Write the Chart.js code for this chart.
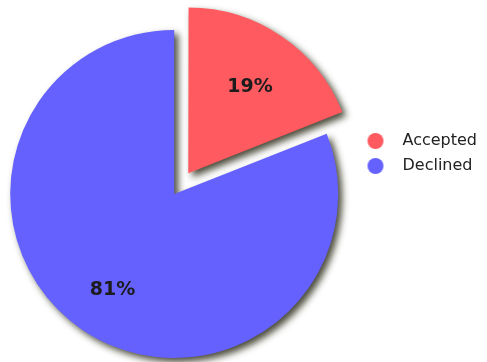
<!DOCTYPE html>
<html>
<head>
<meta charset="utf-8">
<script src="https://cdn.jsdelivr.net/npm/chart.js@4/dist/chart.umd.min.js"></script>
<style>
  body { margin: 0; background: #fff; }
  canvas { display: block; }
</style>
</head>
<body>
<canvas id="myChart" width="487" height="362"></canvas>
<script>
let labels = ['Accepted', 'Declined'];
let shares = [19, 81];
let sliceColors = ['#FF5A5F', '#6561FF'];
let sliceOffsets = [100, 0];   // arcs get translated by offset/4

// legend dot drawn at the left of a wider box so the text sits further right
function dotImage(color) {
    let c = document.createElement('canvas');
    c.width = 37; c.height = 20;
    let g = c.getContext('2d');
    g.fillStyle = color;
    g.beginPath();
    g.arc(18, 10, 8, 0, Math.PI * 2);
    g.fill();
    return c;
}
let dots = sliceColors.map(dotImage);

// drop shadow under the slices, then the percentage text on top
const sliceDecor = {
    id: 'sliceDecor',
    beforeDatasetsDraw(chart) {
        let ctx = chart.ctx;
        ctx.save();
        ctx.shadowColor = 'rgba(30,30,10,0.8)';
        ctx.shadowBlur = 7;
        ctx.shadowOffsetX = 4;
        ctx.shadowOffsetY = 4;
    },
    afterDatasetsDraw(chart) {
        let ctx = chart.ctx;
        ctx.restore();
        let meta = chart.getDatasetMeta(0);
        ctx.save();
        ctx.font = 'bold 19px "DejaVu Sans"';
        ctx.fillStyle = '#1c1c1c';
        ctx.textAlign = 'center';
        ctx.textBaseline = 'middle';
        meta.data.forEach((arc, i) => {
            let mid = (arc.startAngle + arc.endAngle) / 2;
            let d = (arc.options.offset || 0) / 4 + arc.outerRadius * 0.67;
            ctx.fillText(shares[i] + '%', arc.x + Math.cos(mid) * d, arc.y + Math.sin(mid) * d + 5);
        });
        ctx.restore();
    }
};

const ctx = document.getElementById('myChart');
let chrt = new Chart(ctx, {
    type: 'pie',
    data: {
        labels: labels,
        datasets: [{
            data: shares,
            backgroundColor: sliceColors,
            offset: sliceOffsets,
            borderWidth: 0
        }]
    },
    options: {
        responsive: false,
        animation: false,
        radius: 164,
        layout: { padding: { left: 0, right: 0, top: 26, bottom: 0 } },
        plugins: {
            tooltip: { enabled: false },
            legend: {
                position: 'right',
                align: 'start',
                title: {
                    display: true,
                    text: '',
                    font: { size: 10, lineHeight: 1 },
                    padding: { top: 88, bottom: 0 }
                },
                labels: {
                    usePointStyle: true,
                    pointStyleWidth: 37,
                    padding: 9,
                    color: '#222',
                    font: { family: 'DejaVu Sans', size: 16 },
                    generateLabels: () => labels.map((text, i) => ({
                        text: text,
                        pointStyle: dots[i],
                        fillStyle: sliceColors[i],
                        strokeStyle: sliceColors[i],
                        lineWidth: 0,
                        fontColor: '#222',
                        hidden: false,
                        index: i
                    }))
                }
            }
        }
    },
    plugins: [sliceDecor]
});
</script>
</body>
</html>
